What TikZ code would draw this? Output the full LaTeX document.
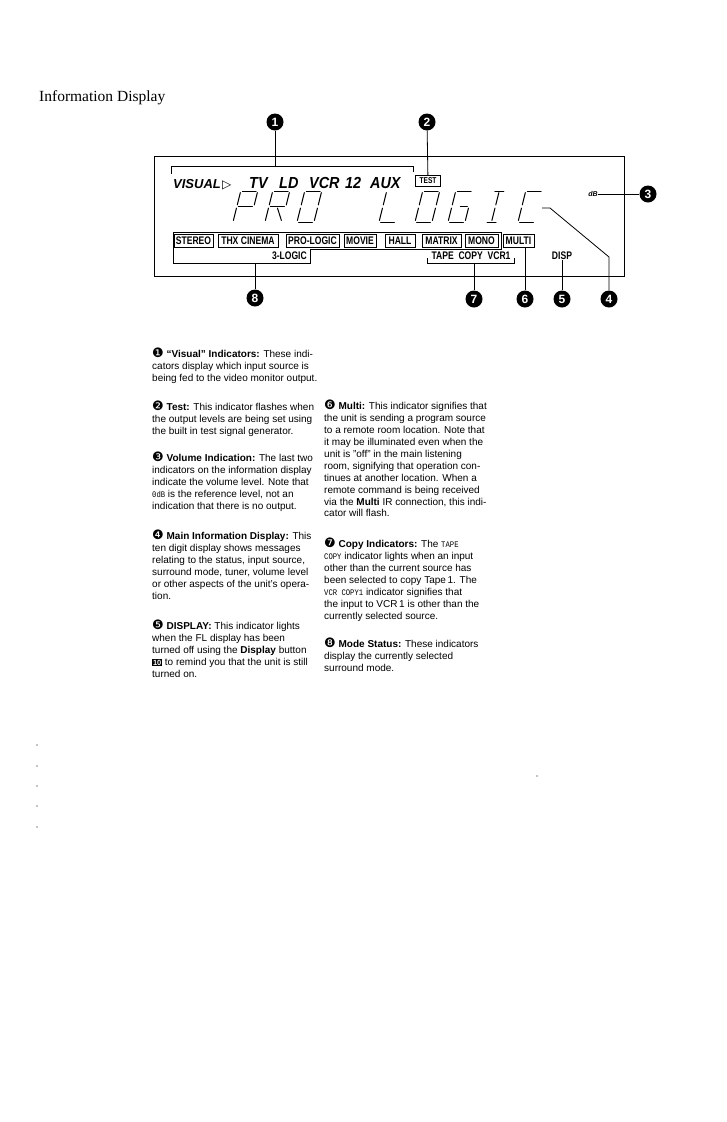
\documentclass[tikz,border=0pt]{standalone}
\usepackage{fontspec}
\setmainfont{Liberation Sans}
\newfontfamily\titlefont{Liberation Serif}
\newfontfamily\lcdfont[FakeStretch=0.78]{Liberation Sans}
\newfontfamily\srcfont[FakeStretch=0.9]{Liberation Sans}
\newfontfamily\symfont{DejaVu Sans}
\newfontfamily\dotfont[FakeStretch=0.85]{Liberation Mono}
\usetikzlibrary{arrows.meta,calc}

% one slanted seven-segment character, #1 = left x at the bottom
\newcommand{\segchar}[2]{%
  \foreach \xa/\ya/\xb/\yb in {#2}
    \draw[seg] ({#1+\xa+0.25*\ya},{222-\ya}) -- ({#1+\xb+0.25*\yb},{222-\yb});}
\newcommand{\keyten}{{\setlength{\fboxsep}{0.8pt}\colorbox{black}{\textcolor{white}{\bfseries\fontsize{7.5}{8}\selectfont 10}}}}
\newcommand{\cnum}[1]{{\symfont\fontsize{13}{10}\selectfont #1}}
\newcommand{\dotword}[1]{{\dotfont\fontsize{8.5}{10}\selectfont #1}}

\tikzset{
  callout/.style={circle,fill=black,text=white,inner sep=0pt,minimum size=17pt,
    font=\bfseries\fontsize{12}{12}\selectfont},
  modebox/.style={draw,line width=0.6pt,inner sep=0pt,minimum height=13pt,
    font=\lcdfont\bfseries\fontsize{11}{11}\selectfont},
  lcdlabel/.style={inner sep=0pt,font=\lcdfont\bfseries\fontsize{11}{11}\selectfont},
  srclabel/.style={inner sep=0pt,anchor=base west,
    font=\srcfont\bfseries\itshape\fontsize{16}{16}\selectfont},
  para/.style={anchor=north west,inner sep=0pt,align=left,font=\fontsize{10}{11.9}\selectfont},
  leader/.style={line width=0.8pt},
  seg/.style={line width=1pt,line cap=round},
}

\begin{document}
\begin{tikzpicture}[x=1pt,y=-1pt,>=Stealth]
\fill[white] (0,0) rectangle (726,1122);
\useasboundingbox (0,0) rectangle (726,1122);

\node[anchor=base west,inner sep=0pt,font=\titlefont\fontsize{15.5}{16}\selectfont] (title) at (39,101) {Information Display};

% the display panel
\draw[line width=1pt] (154,156) rectangle (624,276);

% source row
\node[srclabel,font=\bfseries\itshape\fontsize{13}{13}\selectfont] (visual) at (173,188) {VISUAL};
\node[inner sep=0pt,anchor=base west,font=\symfont\fontsize{12}{12}\selectfont] (tri) at (222,188) {▷};
\foreach \name/\x/\lab in {tv/249/TV,ld/279/LD,vcr/309/VCR,twelve/345/12,aux/370/AUX}
  \node[srclabel] (\name) at (\x,188) {\lab};
\node[modebox,minimum width=25pt,minimum height=11pt,font=\lcdfont\bfseries\fontsize{8.5}{8.5}\selectfont] (test) at (428,181) {TEST};
\draw[leader] (171,174) |- (413,166) -- (413,172);
\coordinate (visbr) at (275,166);

% PRO LOGIC
\segchar{233}{1.6/31/15.4/31,17/29.4/17/17.1,0/17.1/0/29.4,1.6/15.5/15.4/15.5,0/1.6/0/13.9}
\segchar{265}{1.6/31/15.4/31,17/29.4/17/17.1,0/17.1/0/29.4,1.6/15.5/15.4/15.5,0/1.6/0/13.9,9/13.9/16/1.6}
\segchar{297}{1.6/31/15.4/31,17/29.4/17/17.1,17/13.9/17/1.6,1.6/0/15.4/0,0/1.6/0/13.9,0/17.1/0/29.4}
\segchar{379}{0/17.1/0/29.4,0/1.6/0/13.9,1.6/0/15.4/0}
\segchar{415}{1.6/31/15.4/31,17/29.4/17/17.1,17/13.9/17/1.6,1.6/0/15.4/0,0/1.6/0/13.9,0/17.1/0/29.4}
\segchar{448}{1.6/31/15.4/31,0/17.1/0/29.4,0/1.6/0/13.9,1.6/0/15.4/0,17/13.9/17/1.6,8.5/15.5/15.4/15.5}
\segchar{483}{4/31/13/31,8.5/29.4/8.5/17.1,8.5/13.9/8.5/1.6,4/0/13/0}
\segchar{518}{1.6/31/15.4/31,0/17.1/0/29.4,0/1.6/0/13.9,1.6/0/15.4/0}
\coordinate (cend) at (542,208);

\node[inner sep=0pt,font=\bfseries\itshape\fontsize{7}{7}\selectfont] (db) at (593,194) {dB};

% mode row
\foreach \name/\x/\w/\lab in {stereo/193.5/39/STEREO,thx/248/60/THX CINEMA,
    prologic/312.5/53/PRO-LOGIC,movie/360/32/MOVIE,hall/400/30/HALL,
    matrix/441.5/39/MATRIX,mono/481.5/33/MONO,multi/518.5/31/MULTI}
  \node[modebox,minimum width=\w pt] (\name) at (\x,240.5) {\lab};
\draw[leader] (173,232) -- (501,232) -- (501,249) -- (310,249) -- (310,263) -- (173,263) -- cycle;
\coordinate (grp) at (255,263);
\node[lcdlabel,anchor=east] (threelogic) at (307,256) {3-LOGIC};
\node[lcdlabel] (tape) at (471,256) {TAPE\ \ COPY\ \ VCR1};
\draw[leader] (427,258) |- (514,263) -- (514,258);
\coordinate (tapebr) at (474,263);
\node[lcdlabel] (disp) at (562,256) {DISP};

% callouts
\node[callout] (c1) at (275,122) {1};
\node[callout] (c2) at (427,122) {2};
\node[callout] (c3) at (648,194) {3};
\node[callout] (c4) at (609,299) {4};
\node[callout] (c5) at (562,299) {5};
\node[callout] (c6) at (525,299) {6};
\node[callout] (c7) at (474,299) {7};
\node[callout] (c8) at (255,298) {8};

\draw[leader] (c1) -- (visbr);
\draw[leader] (c2) -- (test);
\draw[leader] (db) -- (c3);
\draw[leader] (cend) -- ++(8,0) -- (609,257) -- (c4);
\draw[leader] (disp) -- (c5);
\draw[leader] (multi.south -| c6) -- (c6);
\draw[leader] (tapebr) -- (c7);
\draw[leader] (grp) -- (c8);

% left column
\node[para] (p1) at (152,348) {\cnum{❶} \textbf{“Visual” Indicators:} These indi-\\cators display which input source is\\being fed to the video monitor output.};
\node[para] (p2) at (152,401) {\cnum{❷} \textbf{Test:} This indicator flashes when\\the output levels are being set using\\the built in test signal generator.};
\node[para] (p3) at (152,452) {\cnum{❸} \textbf{Volume Indication:} The last two\\indicators on the information display\\indicate the volume level. Note that\\\dotword{0dB} is the reference level, not an\\indication that there is no output.};
\node[para] (p4) at (152,530) {\cnum{❹} \textbf{Main Information Display:} This\\ten digit display shows messages\\relating to the status, input source,\\surround mode, tuner, volume level\\or other aspects of the unit's opera-\\tion.};
\node[para] (p5) at (152,620) {\cnum{❺} \textbf{DISPLAY:} This indicator lights\\when the FL display has been\\turned off using the \textbf{Display} button\\\keyten{} to remind you that the unit is still\\turned on.};

% right column
\node[para] (p6) at (324,400) {\cnum{❻} \textbf{Multi:} This indicator signifies that\\the unit is sending a program source\\to a remote room location. Note that\\it may be illuminated even when the\\unit is "off" in the main listening\\room, signifying that operation con-\\tinues at another location. When a\\remote command is being received\\via the \textbf{Multi} IR connection, this indi-\\cator will flash.};
\node[para] (p7) at (324,538) {\cnum{❼} \textbf{Copy Indicators:} The \dotword{TAPE}\\\dotword{COPY} indicator lights when an input\\other than the current source has\\been selected to copy Tape\,1. The\\\dotword{VCR COPY1} indicator signifies that\\the input to VCR\,1 is other than the\\currently selected source.};
\node[para] (p8) at (324,638) {\cnum{❽} \textbf{Mode Status:} These indicators\\display the currently selected\\surround mode.};

% stray marks
\foreach \y in {745,766,786,806,827} \fill (37,\y) circle (0.7);
\fill (537,776) circle (0.7);
\end{tikzpicture}
\end{document}
